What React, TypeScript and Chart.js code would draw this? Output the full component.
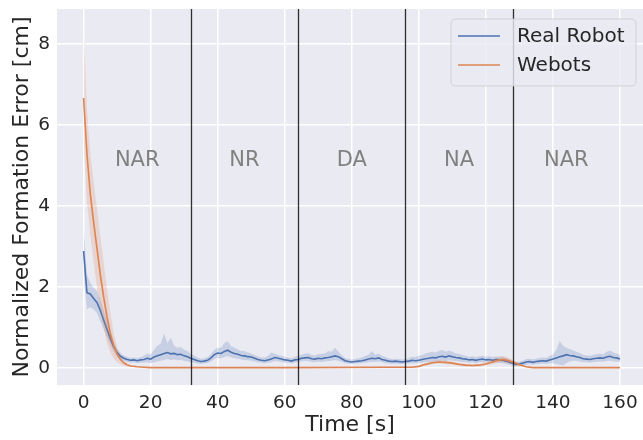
import React, { useEffect, useRef } from "react";
import { Chart, registerables } from "chart.js";
Chart.register(...registerables);

// ---- Real Robot (1 s steps, t = 0..160) ----
const realMean = [
  2.89, 1.86, 1.83, 1.72, 1.62, 1.42, 1.18, 0.95, 0.72, 0.52,
  0.38, 0.29, 0.24, 0.21, 0.19, 0.2, 0.18, 0.2, 0.21, 0.24,
  0.22, 0.27, 0.3, 0.33, 0.36, 0.38, 0.35, 0.36, 0.33, 0.34,
  0.3, 0.28, 0.24, 0.21, 0.18, 0.16, 0.17, 0.19, 0.25, 0.33,
  0.37, 0.36, 0.41, 0.44, 0.39, 0.36, 0.34, 0.31, 0.3, 0.28,
  0.27, 0.24, 0.21, 0.19, 0.18, 0.2, 0.22, 0.26, 0.24, 0.22,
  0.2, 0.19, 0.17, 0.2, 0.21, 0.24, 0.25, 0.26, 0.23, 0.22,
  0.24, 0.23, 0.25, 0.26, 0.28, 0.3, 0.28, 0.23, 0.18, 0.16,
  0.15, 0.16, 0.17, 0.18, 0.2, 0.22, 0.24, 0.23, 0.25, 0.21,
  0.19, 0.17, 0.16, 0.17, 0.16, 0.15, 0.16, 0.17, 0.19, 0.18,
  0.19, 0.21, 0.23, 0.24, 0.26, 0.25, 0.28, 0.29, 0.27, 0.3,
  0.28, 0.26, 0.25, 0.23, 0.22, 0.2, 0.21, 0.19, 0.21, 0.22,
  0.2, 0.21, 0.19, 0.21, 0.2, 0.19, 0.17, 0.14, 0.12, 0.09,
  0.1, 0.12, 0.15, 0.16, 0.14, 0.16, 0.17, 0.18, 0.17, 0.2,
  0.22, 0.25, 0.28, 0.3, 0.33, 0.31, 0.3, 0.28, 0.26, 0.23,
  0.22, 0.21, 0.23, 0.24, 0.25, 0.24, 0.27, 0.29, 0.26, 0.25,
  0.22,
];
const realUpper = [
  3.5, 2.3, 2.1, 1.98, 1.9, 1.7, 1.42, 1.15, 0.88, 0.65,
  0.48, 0.37, 0.31, 0.28, 0.25, 0.26, 0.24, 0.27, 0.3, 0.36,
  0.34, 0.45, 0.55, 0.6, 0.86, 0.62, 0.75, 0.55, 0.5, 0.52,
  0.45, 0.42, 0.35, 0.3, 0.26, 0.23, 0.24, 0.27, 0.34, 0.45,
  0.5, 0.5, 0.62, 0.66, 0.54, 0.5, 0.46, 0.42, 0.42, 0.38,
  0.36, 0.32, 0.29, 0.26, 0.26, 0.3, 0.38, 0.36, 0.32, 0.3,
  0.27, 0.26, 0.24, 0.28, 0.3, 0.33, 0.35, 0.37, 0.32, 0.31,
  0.34, 0.35, 0.36, 0.42, 0.4, 0.5, 0.4, 0.32, 0.25, 0.22,
  0.21, 0.22, 0.24, 0.26, 0.3, 0.33, 0.42, 0.33, 0.36, 0.3,
  0.27, 0.24, 0.22, 0.23, 0.22, 0.21, 0.22, 0.24, 0.28, 0.27,
  0.3, 0.32, 0.36, 0.38, 0.4, 0.38, 0.42, 0.45, 0.4, 0.43,
  0.4, 0.36, 0.35, 0.32, 0.3, 0.28, 0.29, 0.27, 0.29, 0.3,
  0.28, 0.29, 0.27, 0.29, 0.28, 0.27, 0.25, 0.21, 0.18, 0.15,
  0.16, 0.18, 0.22, 0.23, 0.21, 0.23, 0.25, 0.26, 0.25, 0.3,
  0.34, 0.45, 0.67, 0.55, 0.5, 0.47, 0.44, 0.4, 0.37, 0.33,
  0.31, 0.3, 0.33, 0.34, 0.36, 0.34, 0.4, 0.43, 0.38, 0.36,
  0.32,
];
const realLower = [
  2.3, 1.45, 1.5, 1.45, 1.35, 1.15, 0.95, 0.76, 0.57, 0.4,
  0.28, 0.21, 0.17, 0.15, 0.13, 0.14, 0.12, 0.13, 0.13, 0.14,
  0.12, 0.14, 0.16, 0.18, 0.2, 0.22, 0.2, 0.21, 0.19, 0.2,
  0.17, 0.16, 0.14, 0.13, 0.11, 0.1, 0.11, 0.12, 0.16, 0.22,
  0.25, 0.24, 0.27, 0.29, 0.26, 0.24, 0.23, 0.21, 0.2, 0.19,
  0.18, 0.16, 0.14, 0.13, 0.12, 0.13, 0.14, 0.17, 0.16, 0.15,
  0.13, 0.13, 0.11, 0.13, 0.14, 0.16, 0.17, 0.17, 0.15, 0.14,
  0.16, 0.15, 0.16, 0.17, 0.18, 0.2, 0.18, 0.15, 0.12, 0.11,
  0.1, 0.11, 0.11, 0.12, 0.13, 0.14, 0.15, 0.15, 0.16, 0.14,
  0.12, 0.11, 0.1, 0.11, 0.1, 0.1, 0.11, 0.11, 0.12, 0.12,
  0.12, 0.13, 0.14, 0.15, 0.16, 0.15, 0.17, 0.18, 0.17, 0.19,
  0.18, 0.17, 0.16, 0.15, 0.14, 0.13, 0.14, 0.12, 0.14, 0.14,
  0.13, 0.14, 0.12, 0.14, 0.13, 0.12, 0.1, 0.08, 0.06, 0.04,
  0.05, 0.06, 0.08, 0.09, 0.08, 0.09, 0.1, 0.11, 0.1, 0.12,
  0.12, 0.1, 0.08, 0.06, 0.12, 0.16, 0.18, 0.17, 0.16, 0.14,
  0.14, 0.13, 0.14, 0.15, 0.16, 0.15, 0.17, 0.18, 0.16, 0.16,
  0.14,
];
const realTime = realMean.map((_, i) => i);

// ---- Webots ----
const webotsTime = [
  0, 1, 2, 3, 4, 5, 6, 7, 8, 9, 10, 11, 12, 13, 14, 16, 18, 20, 30, 60, 90,
  98, 100, 102, 104, 106, 108, 110, 112, 114, 116, 118, 120, 122, 124, 125,
  126, 128, 130, 132, 134, 140, 160,
];
const webotsMean = [
  6.67, 5.3, 4.3, 3.6, 2.95, 2.3, 1.75, 1.25, 0.85, 0.55, 0.34, 0.21, 0.13, 0.08,
  0.05, 0.03, 0.02, 0.01, 0.01, 0.01, 0.02, 0.02, 0.04, 0.09, 0.13, 0.15, 0.14,
  0.12, 0.09, 0.07, 0.06, 0.07, 0.1, 0.15, 0.2, 0.21, 0.2, 0.15, 0.08, 0.03,
  0.01, 0.01, 0.01,
];
const webotsUpper = [
  8.45, 6.4, 5.3, 4.6, 3.95, 3.25, 2.6, 1.95, 1.35, 0.85, 0.5, 0.3, 0.18, 0.11,
  0.07, 0.04, 0.03, 0.02, 0.02, 0.02, 0.03, 0.03, 0.06, 0.12, 0.17, 0.19, 0.18,
  0.16, 0.12, 0.1, 0.09, 0.1, 0.14, 0.21, 0.28, 0.3, 0.28, 0.21, 0.12, 0.05,
  0.02, 0.02, 0.02,
];
const webotsLower = [
  5.6, 4.1, 3.3, 2.6, 2.0, 1.45, 1.0, 0.62, 0.38, 0.23, 0.14, 0.09, 0.06, 0.04,
  0.03, 0.02, 0.01, 0.0, 0.0, 0.0, 0.01, 0.01, 0.02, 0.06, 0.09, 0.11, 0.1,
  0.08, 0.06, 0.04, 0.03, 0.04, 0.06, 0.1, 0.13, 0.14, 0.13, 0.1, 0.05, 0.02,
  0.0, 0.0, 0.0,
];

// ---- Axes / annotations ----
const xTicks = [0, 20, 40, 60, 80, 100, 120, 140, 160];
const yTicks = [0, 2, 4, 6, 8];
const phaseBoundaries = [32, 64, 96, 128];
const phaseLabels = ["NAR", "NR", "DA", "NA", "NAR"];
const phaseCenters = [16, 48, 80, 112, 144];
const phaseLabelY = 5.13;
const seriesNames = ["Real Robot", "Webots"];

const BLUE = "#4C72B0";
const ORANGE = "#DD8452";
const FONT = "'DejaVu Sans', sans-serif";
const TEXT = "#262626";

const pts = (xs: number[], ys: number[]) => xs.map((x, i) => ({ x, y: ys[i] }));

export default function App() {
  const ref = useRef<HTMLCanvasElement | null>(null);
  useEffect(() => {
    const canvas = ref.current;
    if (!canvas) return;

    const bgPlugin = {
      id: "bg",
      beforeDraw(chart: any) {
        const { ctx, chartArea: a } = chart;
        ctx.save();
        ctx.fillStyle = "#ffffff";
        ctx.fillRect(0, 0, chart.width, chart.height);
        ctx.fillStyle = "#EAEAF2";
        ctx.fillRect(a.left, a.top, a.right - a.left, a.bottom - a.top);
        ctx.restore();
      },
    };

    const overlayPlugin = {
      id: "overlay",
      afterDatasetsDraw(chart: any) {
        const { ctx, chartArea: a, scales } = chart;
        const xs = scales.x;
        const ys = scales.y;
        ctx.save();
        ctx.strokeStyle = "rgba(0,0,0,0.8)";
        ctx.lineWidth = 1.3;
        phaseBoundaries.forEach((b) => {
          const px = Math.round(xs.getPixelForValue(b)) + 0.5;
          ctx.beginPath();
          ctx.moveTo(px, a.top);
          ctx.lineTo(px, a.bottom);
          ctx.stroke();
        });
        ctx.fillStyle = "#808080";
        ctx.font = `21px ${FONT}`;
        ctx.textAlign = "center";
        ctx.textBaseline = "middle";
        phaseLabels.forEach((lab, i) => {
          ctx.fillText(lab, xs.getPixelForValue(phaseCenters[i]), ys.getPixelForValue(phaseLabelY));
        });
        const lx = 451, ly = 19, lw = 185, lh = 67, r = 5;
        ctx.beginPath();
        ctx.moveTo(lx + r, ly);
        ctx.lineTo(lx + lw - r, ly);
        ctx.quadraticCurveTo(lx + lw, ly, lx + lw, ly + r);
        ctx.lineTo(lx + lw, ly + lh - r);
        ctx.quadraticCurveTo(lx + lw, ly + lh, lx + lw - r, ly + lh);
        ctx.lineTo(lx + r, ly + lh);
        ctx.quadraticCurveTo(lx, ly + lh, lx, ly + lh - r);
        ctx.lineTo(lx, ly + r);
        ctx.quadraticCurveTo(lx, ly, lx + r, ly);
        ctx.closePath();
        ctx.fillStyle = "rgba(234,234,242,0.8)";
        ctx.fill();
        ctx.strokeStyle = "rgba(204,204,204,0.8)";
        ctx.lineWidth = 1;
        ctx.stroke();
        const colors = [BLUE, ORANGE];
        const rowY = [36, 65];
        ctx.font = `20px ${FONT}`;
        ctx.textAlign = "left";
        ctx.textBaseline = "middle";
        seriesNames.forEach((name, i) => {
          ctx.strokeStyle = colors[i];
          ctx.lineWidth = 1.5;
          ctx.beginPath();
          ctx.moveTo(458, rowY[i]);
          ctx.lineTo(500, rowY[i]);
          ctx.stroke();
          ctx.fillStyle = TEXT;
          ctx.fillText(name, 517, rowY[i] + 1);
        });
        ctx.restore();
      },
    };

    const chart = new Chart(canvas, {
      type: "line",
      data: {
        datasets: [
          {
            label: seriesNames[1],
            data: pts(webotsTime, webotsMean),
            borderColor: ORANGE,
            borderWidth: 1.6,
            pointRadius: 0,
            fill: false,
            order: 0,
          },
          {
            label: "webotsUpper",
            data: pts(webotsTime, webotsUpper),
            borderWidth: 0,
            borderColor: "rgba(0,0,0,0)",
            backgroundColor: "rgba(221,132,82,0.22)",
            pointRadius: 0,
            fill: "+1",
            order: 1,
          },
          {
            label: "webotsLower",
            data: pts(webotsTime, webotsLower),
            borderWidth: 0,
            borderColor: "rgba(0,0,0,0)",
            pointRadius: 0,
            fill: false,
            order: 2,
          },
          {
            label: seriesNames[0],
            data: pts(realTime, realMean),
            borderColor: BLUE,
            borderWidth: 1.6,
            pointRadius: 0,
            fill: false,
            order: 3,
          },
          {
            label: "realUpper",
            data: pts(realTime, realUpper),
            borderWidth: 0,
            borderColor: "rgba(0,0,0,0)",
            backgroundColor: "rgba(76,114,176,0.22)",
            pointRadius: 0,
            fill: "+1",
            order: 4,
          },
          {
            label: "realLower",
            data: pts(realTime, realLower),
            borderWidth: 0,
            borderColor: "rgba(0,0,0,0)",
            pointRadius: 0,
            fill: false,
            order: 5,
          },
        ],
      },
      options: {
        animation: false,
        responsive: false,
        devicePixelRatio: 1,
        layout: { padding: { top: 9, right: 0, left: 0, bottom: 0 } },
        plugins: {
          legend: { display: false },
          tooltip: { enabled: false },
        },
        elements: { line: { tension: 0 } },
        scales: {
          x: {
            type: "linear",
            min: -7.93,
            max: 166.86,
            afterBuildTicks: (s: any) => {
              s.ticks = xTicks.map((v) => ({ value: v }));
            },
            afterFit: (s: any) => {
              s.height = 55;
              s.paddingLeft = 0;
              s.paddingRight = 0;
            },
            grid: { color: "#ffffff", lineWidth: 1.5, drawTicks: false },
            border: { display: false },
            ticks: {
              color: TEXT,
              font: { family: FONT, size: 18.5 },
              padding: 7,
              maxRotation: 0,
              autoSkip: false,
            },
            title: {
              display: true,
              text: "Time [s]",
              color: TEXT,
              font: { family: FONT, size: 22 },
              padding: { top: 0, bottom: 2 },
            },
          },
          y: {
            type: "linear",
            min: -0.42,
            max: 8.87,
            afterBuildTicks: (s: any) => {
              s.ticks = yTicks.map((v) => ({ value: v }));
            },
            afterFit: (s: any) => {
              s.width = 57;
              s.paddingTop = 0;
              s.paddingBottom = 0;
            },
            grid: { color: "#ffffff", lineWidth: 1.5, drawTicks: false },
            border: { display: false },
            ticks: {
              color: TEXT,
              font: { family: FONT, size: 18.5 },
              padding: 7,
            },
            title: {
              display: true,
              text: "Normalized Formation Error [cm]",
              color: TEXT,
              font: { family: FONT, size: 22 },
              padding: { top: 9, bottom: 0 },
            },
          },
        },
      },
      plugins: [bgPlugin, overlayPlugin],
    } as any);
    return () => chart.destroy();
  }, []);

  return (
    <div style={{ position: "fixed", left: 0, top: 0, width: 643, height: 440 }}>
      <canvas ref={ref} width={643} height={440} style={{ width: 643, height: 440, display: "block" }} />
    </div>
  );
}
